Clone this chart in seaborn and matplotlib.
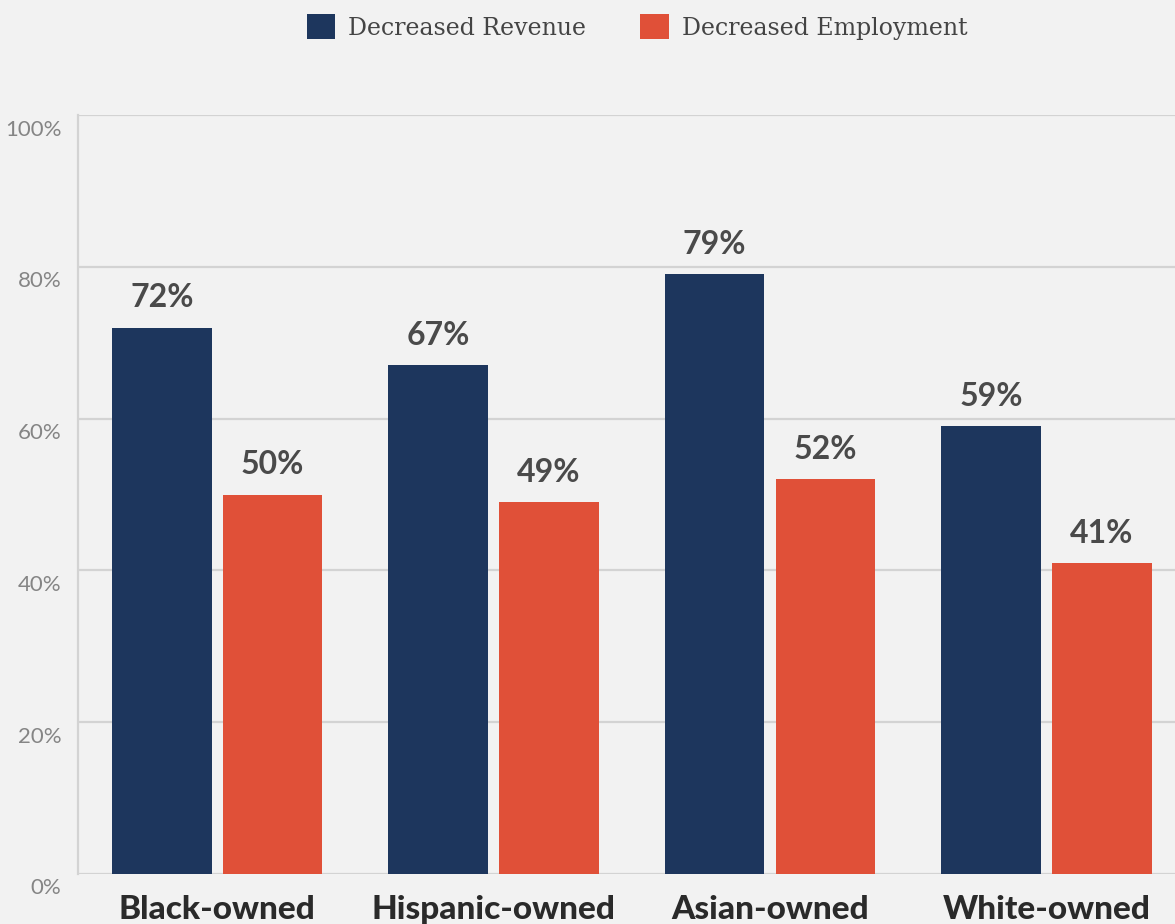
import matplotlib
matplotlib.use("Agg")
import matplotlib.pyplot as plt
import matplotlib.transforms as mtransforms
import seaborn as sns
import pandas as pd

# Share of businesses reporting declines, by owner group
groups = ["Black-owned", "Hispanic-owned", "Asian-owned", "White-owned"]
revenue = [72, 67, 79, 59]
employment = [50, 49, 52, 41]
series_names = ["Decreased Revenue", "Decreased Employment"]
y_ticks = [0, 20, 40, 60, 80, 100]
y_tick_labels = ["0%", "20%", "40%", "60%", "80%", "100%"]

df = pd.DataFrame({
    "group": groups * 2,
    "series": [series_names[0]] * len(groups) + [series_names[1]] * len(groups),
    "value": revenue + employment,
})

BG = "#f2f2f2"
NAVY = "#1d365d"
RED = "#e05038"
GRID = "#d3d3d3"

sns.set_theme(style="white")
plt.rcParams["font.family"] = ["Lato", "DejaVu Sans"]

fig = plt.figure(figsize=(11.75, 9.24), dpi=100, facecolor=BG)
ax = fig.add_axes([78 / 1175, 50 / 924, 1 - 78 / 1175, (874 - 115) / 924])
ax.set_facecolor(BG)

sns.barplot(data=df, x="group", y="value", hue="series", order=groups,
            hue_order=series_names, palette=[NAVY, RED], width=0.8, gap=0.1,
            saturation=1, linewidth=0, ax=ax, legend=True, zorder=3)

ax.set_ylim(0, 100)
ax.set_xlim(-0.503, 3.465)
ax.set_yticks(y_ticks)
ax.set_yticklabels(y_tick_labels)
ax.set_xlabel("")
ax.set_ylabel("")

for y in y_ticks:
    ax.axhline(y, color=GRID, lw=1.6, zorder=1)

for side in ["top", "right", "bottom"]:
    ax.spines[side].set_visible(False)
ax.spines["left"].set_color(GRID)
ax.spines["left"].set_linewidth(1.6)

ax.tick_params(axis="y", length=0, pad=12, labelsize=16, labelcolor="#858585")
ax.tick_params(axis="x", length=0, pad=15, labelsize=24, labelcolor="#2a2a2a")
for lbl in ax.get_xticklabels():
    lbl.set_fontweight("black")

for container in ax.containers:
    ax.bar_label(container, labels=[f"{int(v)}%" for v in container.datavalues],
                 padding=11, fontsize=23, fontweight="bold", color="#4a4a4a")

# y tick labels sit a little below their gridlines
offset = mtransforms.ScaledTranslation(0, -9 / 72, fig.dpi_scale_trans)
for lbl in ax.get_yticklabels():
    lbl.set_transform(lbl.get_transform() + offset)

sns.move_legend(ax, "center", bbox_to_anchor=(637 / 1175, 1 - 27 / 924),
                bbox_transform=fig.transFigure, ncol=2, frameon=False,
                title=None, handlelength=1.2, handleheight=1.2,
                handletextpad=0.55, columnspacing=2.3,
                prop={"family": "DejaVu Serif", "size": 17})
for t in ax.get_legend().get_texts():
    t.set_color("#444444")

fig.savefig("out.png", dpi=100, facecolor=BG)
